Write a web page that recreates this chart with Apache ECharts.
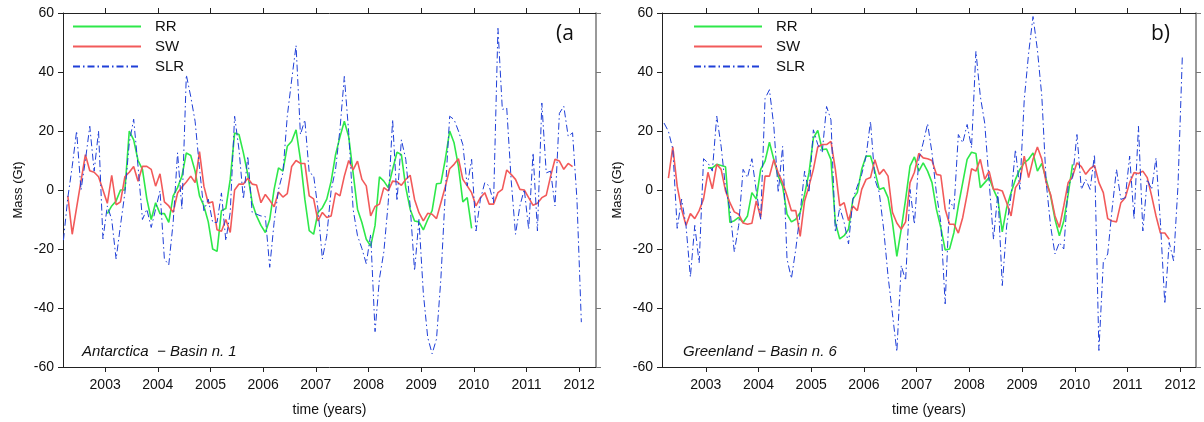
<!DOCTYPE html>
<html>
<head>
<meta charset="utf-8">
<script src="https://cdn.jsdelivr.net/npm/echarts@6/dist/echarts.min.js"></script>
<style>
html, body { margin: 0; padding: 0; background: #fff; }
#main { width: 1204px; height: 422px; }
</style>
</head>
<body>
<div id="main"></div>
<script>
var myChart = echarts.init(document.getElementById('main'));

// month index counted from Jan 2002 (0 = Jan 2002), one value per month
var xTicks = [2003, 2004, 2005, 2006, 2007, 2008, 2009, 2010, 2011, 2012];

// panel (a) Antarctica - Basin n. 1
var aRRStart = 12;
var aRR = [-8, -5.4, -3.7, 0, 0, 20, 17, 10, 7, -3,
    -10, -4.3, -8, -8, -11, -2, 0.8, 4.7, 12.6, 11.7,
    6.4, -2, -5.4, -10.8, -20, -20.8, -7, -6.3, 3.6, 19.3,
    18.8, 12.6, 5.3, -4.3, -8.8, -12, -14.4, -10, 0.2, 7.5,
    6.4, 14.8, 16.5, 20.4, 10.3, -3.1, -13.8, -15, -7.6, -6,
    -3.1, 3, 12, 18, 23.3, 18, 5.8, -6.5, -11, -16.7,
    -19, -12, 4.5, 3, 0.8, 7, 12.8, 12, 0.8, -6.5,
    -10.5, -10.8, -13.5, -10, -7, 2.1, 2.3, 10.4, 20, 16,
    8, -4, -2.6, -13];

var aSWStart = 3;
var aSW = [-2, -15, -6, 3, 12, 6.5, 6, 4.5, 0, -4.5,
    5, -5, -4, 4.5, 6, 8, 3, 8, 8, 7,
    1.3, 5.5, -4, -5.4, -7.6, -1, 1, 2.7, 4.7, 2.5,
    13, 1.3, -4.5, -4, -13.5, -14, -10, -14.4, 0, 2,
    2, 4, 2, 1.7, -4.3, -1.5, -3.5, -5.7, -0.7, -2.4,
    -1.2, 8, 10, 9, 9, -2, -3, -10.5, -7.6, -9.3,
    -8.8, -1, -2, 4.7, 10, 6.8, 9.8, 3.6, 1.4, -8.8,
    -5.6, -4.8, 0.8, -0.3, 3, 2.8, 1.6, 3.6, 5, -3.2,
    -7.7, -10.5, -7.9, -8.2, -9.7, -4.3, 1.1, 7.2, 8.7, 10.6,
    3.6, 1.4, -0.9, -5.4, -2.6, -0.9, -4.8, -4.8, -0.9, 0.2,
    6.8, 5.3, 3.6, 0.2, 0, -2.6, -5.2, -4.5, -2.6, -1.8,
    4.7, 10.4, 9.8, 7, 9, 7.9];

var aSLRStart = 2;
var aSLR = [-17, -2.6, 8, 20, 0, 10, 21.6, 6.4, 20, -16.6,
    -5.4, -10, -23.4, -12, -1, 16, 24, 8, -10, -6.5,
    -12.7, -6.5, -0.3, -23.4, -25.4, -11, 12.6, -6.5, 39, 31.7,
    23.3, 7.5, -7, -3.1, -11, -11, -1, -17.2, -7.6, 25,
    13.7, -3.1, 11.5, -7.6, -8.2, -8.8, -9, -26.2, -11, 0.2,
    5.8, 25, 37.3, 49, 18.8, 23.8, 5.8, 5, -6.5, -23.4,
    -15.5, 0, 7, 20.5, 38.5, 19.4, -6.5, -15.5, -19.8, -25,
    -15, -48, -30, -21, -4.3, 23.9, -3.7, 17, 10.4, -5.4,
    -27.4, -10, -35, -50, -55.5, -50.5, -30, -1, 25, 23.9,
    20, 15.4, 1.4, 10.4, -13.9, -3.2, 2.5, 1.4, -4.3, 54.8,
    27.3, 27.8, 3.6, -15, -5.4, 0.2, -13.3, 12.6, -13.9, 29.5,
    5.8, 6.4, -5.4, 26, 28.4, 18.2, 19.4, -3.2, -44.8];

// panel (b) Greenland - Basin n. 6
var bRRStart = 12;
var bRR = [7.5, 7.5, 8.7, 8.3, 7.9, -11, -10.4, -9.3, -11, -8.8,
    -0.9, -3.1, 7, 9.8, 16.2, 10.3, 4.7, 1.3, -8.2, -10.8,
    -9.9, -7.6, -1.5, 5.8, 17.6, 20.2, 13.7, 13.9, 10.3, -11,
    -16.6, -15.5, -13.3, -3.1, -0.9, 7, 11.5, 11.5, 6.4, 0.2,
    0.8, -2.6, -11, -22.5, -13.3, -3.1, 8.1, 11.2, 6.4, 9.2,
    6.4, 2.5, -6.5, -12.7, -20.3, -20, -14.4, -5.4, 2.5, 10.4,
    12.8, 12.4, 0.8, 2.5, 4.2, 0.2, -3.2, -14.2, -6, -0.9,
    3.6, 7, 9.2, 10.4, 12.6, 6.4, 9, 3.6, -2, -9.9,
    -15.5, -10.5, -1.5, 8.7];

var bSWStart = 3;
var bSW = [4, 14.6, 1.3, -6.5, -12, -8, -9.7, -7, -3, 6,
    0.4, 8.7, 7, -0.3, -4.3, -7.4, -8.2, -11.2, -11.6, -11.3,
    -3.7, -9.3, 4.7, 4.7, 10.3, 5.8, 2.5, -2, -7, -7,
    -15.7, -3.7, 1.3, 7, 14.6, 15.4, 15.4, 16.5, 7, -5.4,
    -4.3, -10.4, -5.4, -7, 0.2, 3.6, 4.2, 10.3, 5.3, 7,
    4.7, -7.6, -11.2, -13.3, -10.8, 2.5, 6, 12.4, 10.9, 10.6,
    10, 5.3, 5, -6.5, -11.6, -11.6, -14.6, -9.3, -1.5, 7.2,
    6.4, 10.4, 3.6, 6.4, 0.2, 0.2, -0.3, -4.3, -8.8, 0.8,
    3, 11.5, 4.2, 10.4, 14.6, 10.4, 2.5, -1.5, -8.8, -12.7,
    -5.4, 2.5, 4.7, 9.2, 7.9, 5.3, 7.2, 8.3, 2.5, -0.9,
    -9.7, -10.5, -10.8, -4.3, -2.6, 2.5, 5.9, 5.6, 6.4, 4.2,
    -2, -8.8, -14.6, -14.6, -16.7];

var bSLRStart = 2;
var bSLR = [22.7, 19.9, 13.9, -13, -3.1, -12, -29.5, -12, -24.7, 10.6,
    9.2, 6.4, 25, 14.8, 0.8, -6.5, -21, -12, 7, 4.2,
    10.6, -0.3, -9.9, 31, 34, 21.6, -0.9, 14.8, -23.4, -30,
    -20, -7.6, 6.4, -0.9, 20.4, 15.4, 12.6, 28.3, 23.8, -14.4,
    -6, -11, -18.3, -3.1, 1.3, 5.3, 11.5, 23.3, 3.6, -0.9,
    -13.3, -29.2, -42, -54.8, -25.6, -30.7, 0.2, -11.6, 10.3, 16,
    22.5, 12.6, -1, -11, -38.6, -3.2, -6.5, 18.8, 16, 22.2,
    14.3, 47, 31.8, 22.7, 3, -16.7, -0.9, -32.4, -12.2, -2,
    13.7, 0.2, 30.6, 46.4, 58.8, 47.5, 31.8, 2.5, -12.2, -21.7,
    -17.8, -20, 1.4, 4.2, 18.8, 0.2, 3.6, 0.2, 12, -54.4,
    -24.5, -21.7, -6.5, 7, -3.2, -2.6, 11.5, -9.9, 21.6, -13.9,
    3.6, 0.2, 10.9, -11, -38.6, -17.8, -24, 1.4, 45.8];

function toPairs(start, vals) {
    return vals.map(function (v, i) {
        return [2002 + (start + i + 0.5) / 12, v];
    });
}

var font = 'Liberation Sans, Arial, sans-serif';
var green = '#2ee84a', red = '#f25a5a', blue = '#1f3fd8';

function bottomAxis(grid, min, max) {
    return {
        type: 'value', gridIndex: grid, position: 'bottom', min: min, max: max,
        name: 'time (years)', nameLocation: 'middle', nameGap: 36,
        nameTextStyle: {fontFamily: font, fontSize: 14, color: '#111'},
        axisLine: {onZero: false, lineStyle: {color: '#222', width: 1}},
        axisTick: {length: 5, customValues: xTicks, lineStyle: {color: '#222'}},
        axisLabel: {
            customValues: xTicks, fontFamily: font, fontSize: 14, color: '#111', margin: 11,
            formatter: function (v) { return String(Math.round(v)); }
        },
        splitLine: {show: false}
    };
}
function topAxis(grid, min, max) {
    return {
        type: 'value', gridIndex: grid, position: 'top', min: min, max: max,
        axisLine: {onZero: false, lineStyle: {color: '#222', width: 1}},
        axisTick: {length: 5, customValues: xTicks, lineStyle: {color: '#222'}},
        axisLabel: {show: false},
        splitLine: {show: false}
    };
}
function leftAxis(grid) {
    return {
        type: 'value', gridIndex: grid, position: 'left', min: -60, max: 60, interval: 20,
        name: 'Mass (Gt)', nameLocation: 'middle', nameGap: 38,
        nameTextStyle: {fontFamily: font, fontSize: 13, color: '#111'},
        axisLine: {show: true, onZero: false, lineStyle: {color: '#222', width: 1}},
        axisTick: {show: true, length: 5, lineStyle: {color: '#222'}},
        axisLabel: {fontFamily: font, fontSize: 14, color: '#111', margin: 9},
        splitLine: {show: false}
    };
}
function rightAxis(grid) {
    return {
        type: 'value', gridIndex: grid, position: 'right', min: -60, max: 60, interval: 20,
        axisLine: {show: true, onZero: false, lineStyle: {color: '#777', width: 1.5}},
        axisTick: {show: true, length: 5, lineStyle: {color: '#777'}},
        axisLabel: {show: false},
        splitLine: {show: false}
    };
}

function lineSeries(name, axis, data, color, width, type) {
    return {
        name: name, type: 'line', xAxisIndex: axis, yAxisIndex: axis,
        data: data, symbol: 'none', showSymbol: false, animation: false,
        lineStyle: {color: color, width: width, type: type || 'solid'},
        itemStyle: {color: color}
    };
}

var dashDot = [7, 3, 1.5, 3];

var legendBase = {
    orient: 'vertical', itemWidth: 68, itemHeight: 15, itemGap: 5, padding: 0,
    itemStyle: {opacity: 0},
    textStyle: {fontFamily: font, fontSize: 15, color: '#111', padding: [0, 0, 0, 9]},
    data: ['RR', 'SW', 'SLR']
};

var option = {
    animation: false,
    backgroundColor: '#fff',
    grid: [
        {left: 63, top: 13, width: 533, height: 355},
        {left: 662, top: 13, width: 534, height: 355}
    ],
    xAxis: [
        bottomAxis(0, 2002.2, 2012.32),
        bottomAxis(1, 2002.17, 2012.3),
        topAxis(0, 2002.2, 2012.32),
        topAxis(1, 2002.17, 2012.3)
    ],
    yAxis: [leftAxis(0), leftAxis(1), rightAxis(0), rightAxis(1)],
    legend: [
        Object.assign({}, legendBase, {left: 72, top: 19}),
        Object.assign({}, legendBase, {left: 693, top: 19})
    ],
    series: [
        lineSeries('RR', 0, toPairs(aRRStart, aRR), green, 1.6),
        lineSeries('SW', 0, toPairs(aSWStart, aSW), red, 1.6),
        lineSeries('SLR', 0, toPairs(aSLRStart, aSLR), blue, 1, dashDot),
        lineSeries('RR', 1, toPairs(bRRStart, bRR), green, 1.6),
        lineSeries('SW', 1, toPairs(bSWStart, bSW), red, 1.6),
        lineSeries('SLR', 1, toPairs(bSLRStart, bSLR), blue, 1, dashDot)
    ],
    graphic: [
        {type: 'text', left: 556, top: 24, style: {text: '(a', font: '21px "Open Sans", sans-serif', fill: '#111'}},
        {type: 'text', left: 1151, top: 24, style: {text: 'b)', font: '21px "Open Sans", sans-serif', fill: '#111'}},
        {type: 'text', left: 82, top: 344, style: {text: 'Antarctica  \u2212 Basin n. 1', font: 'italic 15px ' + font, fill: '#111'}},
        {type: 'text', left: 683, top: 344, style: {text: 'Greenland \u2212 Basin n. 6', font: 'italic 15px ' + font, fill: '#111'}}
    ]
};
myChart.setOption(option);
</script>
</body>
</html>
